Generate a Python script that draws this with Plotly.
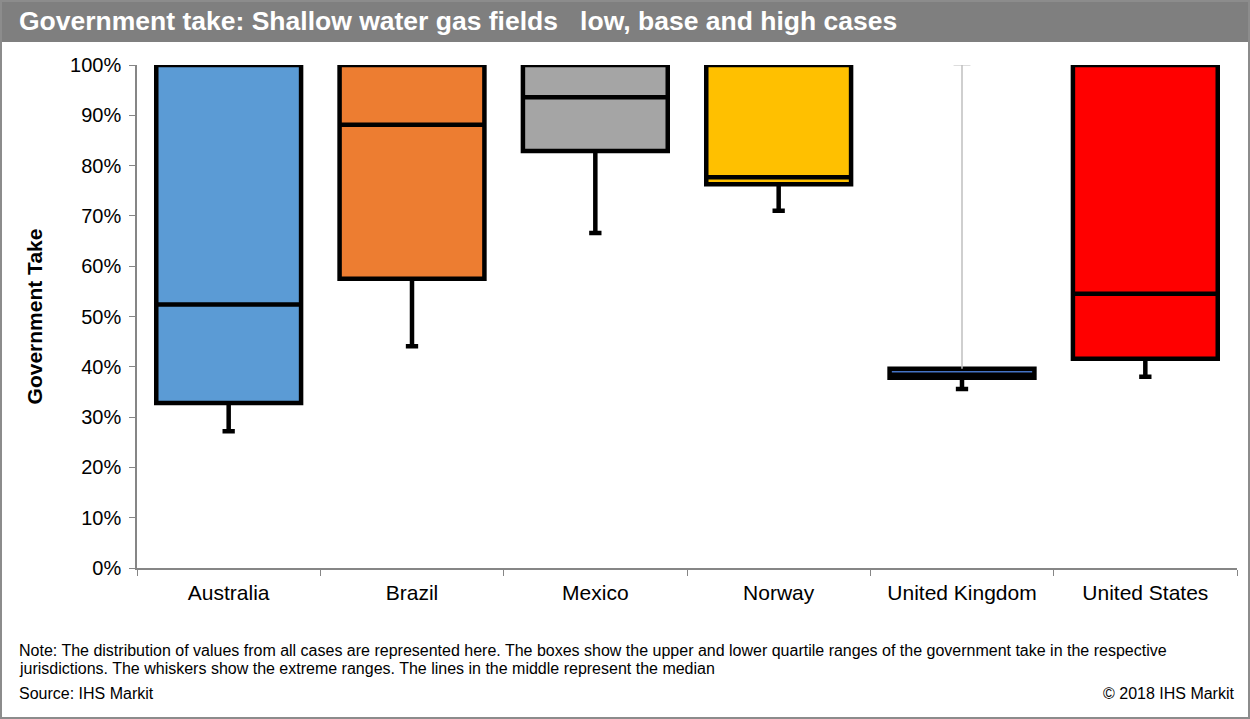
import plotly.graph_objects as go

# Government take distribution per jurisdiction (fractions of 1)
countries = ["Australia", "Brazil", "Mexico", "Norway", "United Kingdom", "United States"]
low = [0.272, 0.441, 0.666, 0.710, 0.356, 0.380]
q1 = [0.328, 0.575, 0.829, 0.763, 0.378, 0.416]
median = [0.524, 0.881, 0.936, 0.777, 0.384, 0.545]
q3 = [1.000, 1.000, 1.000, 1.000, 0.396, 1.000]
high = [1.000, 1.000, 1.000, 1.000, 1.000, 1.000]
fills = ["#5B9BD5", "#ED7D31", "#A5A5A5", "#FFC000", "#4472C4", "#FF0000"]

# Plot-area geometry in pixels (used to place the banner, notes and frame)
W, H = 1250, 719
L, R, T, B = 137, 13, 65, 151
pw, ph = W - L - R, H - T - B


def px_x(x):
    return (x - L) / pw


def px_y(y):
    return (H - B - y) / ph


fig = go.Figure()

for i, c in enumerate(countries):
    # The United Kingdom's upper whisker is drawn separately as a thin grey line
    thin_upper = q3[i] < high[i] and c == "United Kingdom"
    if thin_upper:
        fig.add_trace(go.Scatter(
            x=[c, c], y=[q3[i], high[i]], mode="lines+markers",
            line=dict(color="#BFBFBF", width=1.5),
            marker=dict(symbol="line-ew", size=[0, 12],
                        line=dict(color="#BFBFBF", width=1.5)),
            showlegend=False, hoverinfo="skip",
        ))
    fig.add_trace(go.Box(
        x=[c],
        q1=[q1[i]], median=[median[i]], q3=[q3[i]],
        lowerfence=[low[i]],
        upperfence=[q3[i] if thin_upper else high[i]],
        boxpoints=False,
        width=0.79,
        fillcolor=fills[i],
        line=dict(color="#000000", width=4.5),
        whiskerwidth=0.085,
        name=c, showlegend=False,
    ))

fig.update_layout(
    width=W, height=H,
    margin=dict(l=L, r=R, t=T, b=B, pad=0),
    paper_bgcolor="white", plot_bgcolor="white",
    font=dict(family="Liberation Sans, Arial, sans-serif", color="#000000"),
    showlegend=False,
    xaxis=dict(
        type="category", categoryorder="array", categoryarray=countries,
        range=[-0.5, len(countries) - 0.5],
        showline=True, linecolor="#868686", linewidth=1.5,
        ticks="outside", tickson="boundaries", ticklen=6, tickcolor="#868686",
        tickfont=dict(size=21, color="#000000"), ticklabelstandoff=5,
        showgrid=False, zeroline=False,
    ),
    yaxis=dict(
        range=[0, 1], tickformat=".0%", dtick=0.1,
        showline=True, linecolor="#868686", linewidth=1.5,
        ticks="outside", ticklen=6, tickcolor="#868686",
        tickfont=dict(size=20, color="#000000"), ticklabelstandoff=4,
        showgrid=False, zeroline=False,
        title=dict(text="<b>Government Take</b>", font=dict(size=21), standoff=22),
    ),
)

# Title banner and outer frame
fig.add_shape(type="rect", xref="paper", yref="paper",
              x0=px_x(0), x1=px_x(W), y0=px_y(42), y1=px_y(0),
              fillcolor="#7F7F7F", line=dict(width=0), layer="below")
fig.add_shape(type="rect", xref="paper", yref="paper",
              x0=px_x(1), x1=px_x(W - 1), y0=px_y(H - 1), y1=px_y(1),
              fillcolor="rgba(0,0,0,0)", line=dict(color="#8C8C8C", width=2))

fig.add_annotation(
    xref="paper", yref="paper", x=px_x(17), y=px_y(21),
    xanchor="left", yanchor="middle", showarrow=False,
    text="<b>Government take: Shallow water gas fields   low, base and high cases</b>",
    font=dict(size=26.5, color="white"),
)

note_lines = [
    "Note: The distribution of values from all cases are represented here. The boxes show the upper and lower quartile ranges of the government take in the respective",
    "jurisdictions. The whiskers show the extreme ranges. The lines in the middle represent the median",
]
for k, line in enumerate(note_lines):
    fig.add_annotation(
        xref="paper", yref="paper", x=px_x(17), y=px_y(650 + 18 * k),
        xanchor="left", yanchor="middle", showarrow=False,
        text=line, font=dict(size=16, color="#000000"),
    )
fig.add_annotation(
    xref="paper", yref="paper", x=px_x(17), y=px_y(694),
    xanchor="left", yanchor="middle", showarrow=False,
    text="Source: IHS Markit", font=dict(size=16, color="#000000"),
)
fig.add_annotation(
    xref="paper", yref="paper", x=px_x(1237), y=px_y(694),
    xanchor="right", yanchor="middle", showarrow=False,
    text="© 2018 IHS Markit", font=dict(size=16, color="#000000"),
)

fig.write_html("out.html")
